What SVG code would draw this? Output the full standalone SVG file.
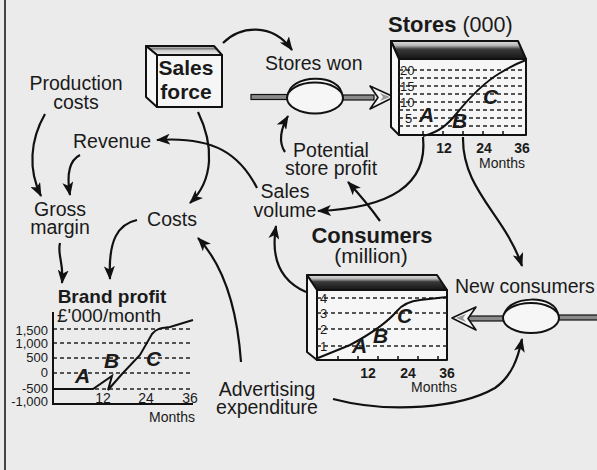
<svg xmlns="http://www.w3.org/2000/svg" width="597" height="470" viewBox="0 0 597 470">
<defs>
<marker id="ah" viewBox="0 0 14 11" refX="13" refY="5.5" markerWidth="14" markerHeight="11" markerUnits="userSpaceOnUse" orient="auto"><path d="M0,0 L14,5.5 L0,11 L3.5,5.5 z" fill="#111"/></marker>
<linearGradient id="topg" x1="0" y1="0" x2="0" y2="1"><stop offset="0" stop-color="#e2e2e2"/><stop offset="0.25" stop-color="#b5b5b5"/><stop offset="0.45" stop-color="#3a3a3a"/><stop offset="1" stop-color="#151515"/></linearGradient>
<linearGradient id="topsf" x1="0" y1="0" x2="0" y2="1"><stop offset="0" stop-color="#eee"/><stop offset="0.3" stop-color="#777"/><stop offset="0.5" stop-color="#ccc"/><stop offset="1" stop-color="#f2f2f2"/></linearGradient>
</defs>
<style>
.t{font-family:"Liberation Sans",Arial,sans-serif;fill:#1a1a1a}
.lb{font-size:19.5px}
.bd{font-weight:bold}
.ax{font-size:14px}
.yl{font-size:13px}
.tk{font-size:14px;font-weight:bold}
.ltr{font-size:21px;font-weight:bold;font-style:italic}
.box{stroke:#111;stroke-width:2;stroke-linejoin:round}
.face{fill:#f6f6f6}
.grid{stroke:#222;stroke-width:1.3;stroke-dasharray:4 3;fill:none}
.crv{stroke:#111;stroke-width:2;fill:none}
.con{stroke:#111;stroke-width:2.2;fill:none;marker-end:url(#ah)}
.pipe{fill:#8a8a8a;stroke:#111;stroke-width:1.2}
.valve{fill:#f6f6f6;stroke:#111;stroke-width:2}
.ha{fill:#f6f6f6;stroke:#111;stroke-width:1.6;stroke-linejoin:round}
</style>
<rect width="597" height="470" fill="#ebebeb"/>
<line x1="5" y1="0" x2="5" y2="470" stroke="#444" stroke-width="2"/>

<g id="sales-force">
<polygon class="box" points="146,46 214,46 222,55 157,55" fill="url(#topsf)"/>
<polygon class="box face" points="146,46 157,55 157,107 146,97"/>
<rect class="box face" x="157" y="55" width="65" height="52"/>
<text class="t bd" font-size="21" x="186" y="75" text-anchor="middle">Sales</text>
<text class="t bd" font-size="21" x="186" y="99" text-anchor="middle">force</text>
</g>

<g id="production-costs">
<text class="t lb" x="76" y="90" text-anchor="middle">Production</text>
<text class="t lb" x="76" y="109" text-anchor="middle">costs</text>
</g>
<g id="revenue"><text class="t lb" x="112" y="148" text-anchor="middle">Revenue</text></g>
<g id="gross-margin">
<text class="t lb" x="60" y="216" text-anchor="middle">Gross</text>
<text class="t lb" x="60" y="234" text-anchor="middle">margin</text>
</g>
<g id="costs"><text class="t lb" x="172" y="226" text-anchor="middle">Costs</text></g>
<g id="sales-volume">
<text class="t lb" x="285" y="198" text-anchor="middle">Sales</text>
<text class="t lb" x="285" y="217" text-anchor="middle">volume</text>
</g>
<g id="potential-store-profit">
<text class="t lb" x="331" y="157" text-anchor="middle">Potential</text>
<text class="t lb" x="331" y="175" text-anchor="middle">store profit</text>
</g>
<g id="advertising">
<text class="t lb" x="267" y="396" text-anchor="middle">Advertising</text>
<text class="t lb" x="267" y="414" text-anchor="middle">expenditure</text>
</g>

<g id="stores-won">
<text class="t lb" x="265" y="70">Stores won</text>
<rect class="pipe" x="251" y="94.5" width="38" height="5"/>
<rect class="pipe" x="341" y="95" width="33" height="5"/>
<path class="valve" d="M288,96 C288,74 342,72 342,96 Z"/>
<ellipse class="valve" cx="315" cy="98" rx="28" ry="15.5"/>
<polygon class="ha" points="394,97 370,86 378,97.5 370,109"/>
<polygon points="390,97 380,93 383,97 380,101" fill="#999"/>
</g>

<g id="stores">
<text class="t" x="388" y="32" font-size="21.5"><tspan font-weight="bold" font-size="22">Stores</tspan> (000)</text>
<polygon class="box" points="391,41 518,41 526,59 399,59" fill="url(#topg)"/>
<polygon class="box face" points="391,41 399,59 399,135 391,127"/>
<rect class="box face" x="399" y="59" width="127" height="76"/>
<g class="grid">
<line x1="399" y1="70" x2="526" y2="70"/><line x1="399" y1="78" x2="526" y2="78"/>
<line x1="399" y1="86" x2="526" y2="86"/><line x1="399" y1="94" x2="526" y2="94"/>
<line x1="399" y1="102" x2="526" y2="102"/><line x1="399" y1="110" x2="526" y2="110"/>
<line x1="399" y1="118" x2="526" y2="118"/><line x1="399" y1="126" x2="526" y2="126"/>
</g>
<text class="t" font-size="13" x="400" y="74.5">20</text>
<text class="t" font-size="13" x="400" y="90.5">15</text>
<text class="t" font-size="13" x="400" y="106.5">10</text>
<text class="t" font-size="13" x="405" y="122.5">5</text>
<path class="crv" d="M423,136 C440,132 448,124 457,113 C470,97 485,82 500,73 C510,67 518,63 526,60"/>
<g stroke="#111" stroke-width="1.5">
<line x1="423" y1="135" x2="423" y2="131"/><line x1="443" y1="135" x2="443" y2="131"/>
<line x1="463" y1="135" x2="463" y2="131"/><line x1="483" y1="135" x2="483" y2="131"/>
<line x1="503" y1="135" x2="503" y2="131"/>
</g>
<text class="t ltr" x="419" y="122">A</text>
<text class="t ltr" x="452" y="128">B</text>
<text class="t ltr" x="483" y="104">C</text>
<text class="t tk" x="444" y="153" text-anchor="middle">12</text>
<text class="t tk" x="484" y="153" text-anchor="middle">24</text>
<text class="t tk" x="522" y="153" text-anchor="middle">36</text>
<text class="t ax" x="502" y="168" text-anchor="middle">Months</text>
</g>

<g id="consumers">
<text class="t bd" font-size="22" x="372" y="243" text-anchor="middle">Consumers</text>
<text class="t" font-size="21" x="371" y="263" text-anchor="middle">(million)</text>
<polygon class="box" points="307,275 437,275 447,290 317,290" fill="url(#topg)"/>
<polygon class="box face" points="307,275 317,290 317,360 307,352"/>
<rect class="box face" x="317" y="290" width="130" height="70"/>
<g class="grid">
<line x1="317" y1="298" x2="447" y2="298"/><line x1="317" y1="313" x2="447" y2="313"/>
<line x1="317" y1="329" x2="447" y2="329"/><line x1="317" y1="346" x2="447" y2="346"/>
</g>
<text class="t" font-size="13" x="320" y="302.5">4</text>
<text class="t" font-size="13" x="320" y="317.5">3</text>
<text class="t" font-size="13" x="320" y="333.5">2</text>
<text class="t" font-size="13" x="320" y="350.5">1</text>
<path class="crv" d="M318,358 L350,345 C365,337 385,325 397,311 C403,304 410,301 420,300 L447,297"/>
<g stroke="#111" stroke-width="1.5">
<line x1="338" y1="360" x2="338" y2="356"/><line x1="358" y1="360" x2="358" y2="356"/>
<line x1="378" y1="360" x2="378" y2="356"/><line x1="398" y1="360" x2="398" y2="356"/>
<line x1="418" y1="360" x2="418" y2="356"/><line x1="438" y1="360" x2="438" y2="356"/>
</g>
<text class="t ltr" x="352" y="353">A</text>
<text class="t ltr" x="373" y="343">B</text>
<text class="t ltr" x="397" y="323">C</text>
<text class="t tk" x="368" y="378" text-anchor="middle">12</text>
<text class="t tk" x="408" y="378" text-anchor="middle">24</text>
<text class="t tk" x="447" y="378" text-anchor="middle">36</text>
<text class="t ax" x="434" y="392" text-anchor="middle">Months</text>
</g>

<g id="new-consumers">
<text class="t lb" x="455" y="293">New consumers</text>
<rect class="pipe" x="468" y="316" width="37" height="5"/>
<rect class="pipe" x="557" y="315" width="42" height="5"/>
<path class="valve" d="M504,317 C504,295 558,293 558,316 Z"/>
<ellipse class="valve" cx="531" cy="318" rx="28" ry="15"/>
<polygon class="ha" points="452,318 476,307 468,318.5 476,330"/>
<polygon points="456,318 466,314 463,318 466,322" fill="#999"/>
</g>

<g id="brand-profit">
<text class="t bd" font-size="19" x="112" y="303" text-anchor="middle">Brand profit</text>
<text class="t" font-size="19" x="57" y="322">£'000/month</text>
<g class="grid">
<line x1="53" y1="329" x2="193" y2="329"/><line x1="53" y1="343" x2="193" y2="343"/>
<line x1="53" y1="358" x2="193" y2="358"/><line x1="53" y1="373" x2="193" y2="373"/>
<line x1="53" y1="389" x2="193" y2="389"/>
</g>
<path d="M53,312 L53,404 L193,404" fill="none" stroke="#111" stroke-width="2"/>
<g class="t yl" text-anchor="end">
<text x="48" y="335">1,500</text><text x="48" y="348">1,000</text>
<text x="48" y="362">500</text><text x="48" y="377">0</text>
<text x="48" y="393">-500</text><text x="48" y="406">-1,000</text>
</g>
<path class="crv" d="M53,389 L93,389 L112,376 L108,390 L122,374 L140,355 L152,334 C157,328 162,328 170,327 L193,320"/>
<text class="t ltr" x="75" y="383">A</text>
<text class="t ltr" x="104" y="368">B</text>
<text class="t ltr" x="146" y="366">C</text>
<text class="t ax" x="103" y="403" text-anchor="middle">12</text>
<text class="t ax" x="146" y="403" text-anchor="middle">24</text>
<text class="t ax" x="190" y="403" text-anchor="middle">36</text>
<text class="t ax" x="172" y="422" text-anchor="middle">Months</text>
</g>

<g id="connectors">
<path class="con" d="M223,43 C240,26 272,22 292,50"/>
<path class="con" d="M198,112 C214,145 214,180 190,203"/>
<path class="con" d="M257,188 C240,155 215,136 157,140"/>
<path class="con" d="M45,114 C30,140 28,170 41,196"/>
<path class="con" d="M80,155 C70,160 66,172 70,195"/>
<path class="con" d="M60,243 C57,255 64,262 62,283"/>
<path class="con" d="M137,220 C118,224 108,240 110,279"/>
<path class="con" d="M241,362 C238,320 228,270 198,238"/>
<path class="con" d="M285,152 C278,142 281,128 288,116"/>
<path class="con" d="M423,137 C428,185 390,208 318,211"/>
<path class="con" d="M380,221 C370,207 360,195 348,182"/>
<path class="con" d="M306,292 C283,282 270,262 276,226"/>
<path class="con" d="M463,137 C462,190 505,215 522,266"/>
<path class="con" d="M333,399 C390,414 460,408 495,388 C512,376 518,358 522,339"/>
</g>
</svg>
